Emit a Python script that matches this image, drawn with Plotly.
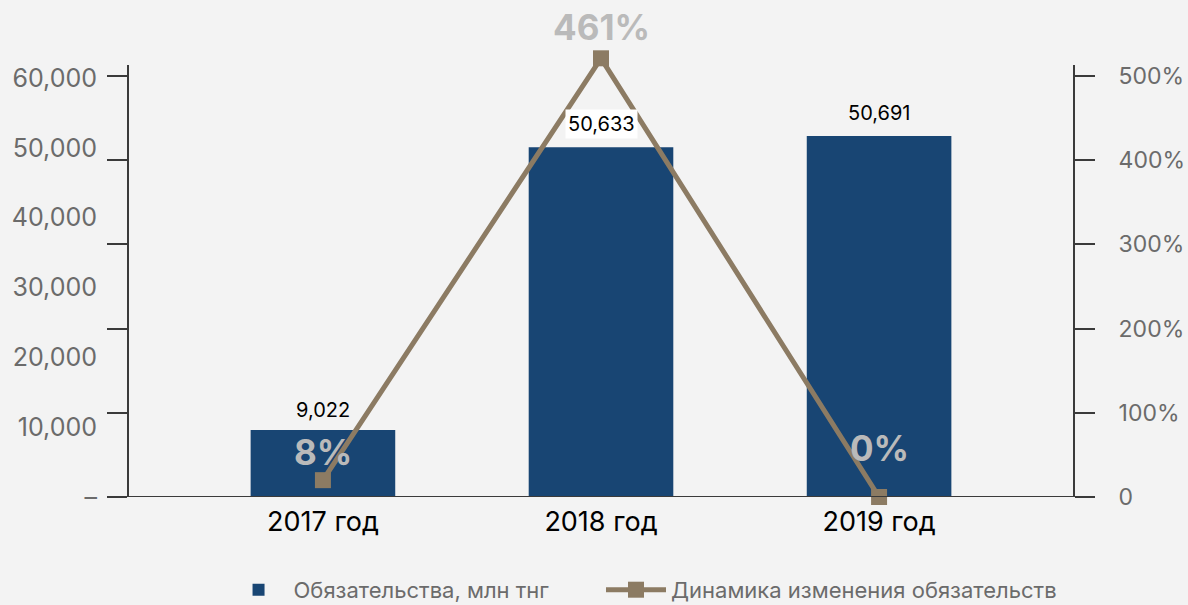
import plotly.graph_objects as go

categories = ["2017 год", "2018 год", "2019 год"]
# bar heights as drawn in the picture, and the printed value labels
liab_values = [9600, 50100, 51700]
liab_labels = ["9,022", "50,633", "50,691"]
# line points as drawn (right axis, %), and the printed percent labels
dyn_values = [20, 521, 0]
dyn_labels = ["8%", "461%", "0%"]

left_tickvals = [0, 10000, 20000, 30000, 40000, 50000, 60000]
left_ticktext = ["–", "10,000", "20,000", "30,000", "40,000", "50,000", "60,000"]
right_tickvals = [0, 100, 200, 300, 400, 500]
right_ticktext = ["0", "100%", "200%", "300%", "400%", "500%"]
axis_top_pct = 513  # where the drawn axis lines stop (right-axis units)

bar_name = "Обязательства, млн тнг"
line_name = "Динамика изменения обязательств"

BAR_COLOR = "#184573"
LINE_COLOR = "#8c7b63"
AXIS_COLOR = "#3a3a3a"
TICK_FONT_COLOR = "#6b6b6b"
FONT = "Inter"

fig = go.Figure()
fig.add_trace(go.Bar(
    x=categories, y=liab_values, name=bar_name,
    marker=dict(color=BAR_COLOR, line=dict(width=0)),
    width=0.52, yaxis="y", legend="legend",
))
fig.add_trace(go.Scatter(
    x=categories, y=dyn_values, name=line_name, yaxis="y2",
    mode="lines+markers",
    line=dict(color=LINE_COLOR, width=5),
    marker=dict(symbol="square", size=16, color=LINE_COLOR),
    cliponaxis=False, legend="legend2",
))

annotations = []
bar_label_shift = [20, 23, 23]
for i, (c, v, t) in enumerate(zip(categories, liab_values, liab_labels)):
    annotations.append(dict(
        x=c, y=v, xref="x", yref="y", text=t, showarrow=False,
        yshift=bar_label_shift[i],
        font=dict(family=FONT, size=20, color="#000000"),
        bgcolor="#ffffff" if i == 1 else "rgba(0,0,0,0)",
        borderpad=2,
    ))
pct_shift = [28, 31, 49]
for i, (c, v, t) in enumerate(zip(categories, dyn_values, dyn_labels)):
    annotations.append(dict(
        x=c, y=v, xref="x", yref="y2", text="<b>" + t + "</b>", showarrow=False,
        yshift=pct_shift[i],
        font=dict(family=FONT, size=35, color="#bababa"),
    ))

line_style = dict(color=AXIS_COLOR, width=2)
shapes = [
    dict(type="line", xref="paper", yref="y2", x0=0, x1=0, y0=0, y1=axis_top_pct,
         line=line_style, layer="above"),
    dict(type="line", xref="paper", yref="y2", x0=1, x1=1, y0=0, y1=axis_top_pct,
         line=line_style, layer="above"),
    dict(type="line", xref="paper", yref="y2", x0=0, x1=1, y0=0, y1=0,
         line=line_style, layer="above"),
]

legend_common = dict(
    orientation="h", xanchor="left", y=-0.252, yanchor="bottom",
    font=dict(family=FONT, size=22, color="#6b6b6b"),
    itemwidth=60, bgcolor="rgba(0,0,0,0)",
)

fig.update_layout(
    width=1188, height=605,
    margin=dict(l=128, r=114, t=45, b=108, autoexpand=False),
    paper_bgcolor="#f3f3f3", plot_bgcolor="#f3f3f3",
    font=dict(family=FONT, color=TICK_FONT_COLOR),
    showlegend=True,
    legend=dict(x=0.101, **legend_common),
    legend2=dict(x=0.5, **legend_common),
    xaxis=dict(
        range=[-0.701, 2.701], showgrid=False, zeroline=False,
        showline=False, ticks="", ticklabelstandoff=6,
        tickfont=dict(family=FONT, size=27, color="#000000"),
    ),
    yaxis=dict(
        range=[0, 64726], showgrid=False, zeroline=False, showline=False,
        tickvals=left_tickvals, ticktext=left_ticktext,
        ticks="", ticklabelstandoff=30,
        tickfont=dict(family=FONT, size=25, color=TICK_FONT_COLOR),
    ),
    yaxis2=dict(
        range=[0, 536.8], overlaying="y", side="right",
        showgrid=False, zeroline=False,
        showline=False, mirror="ticks",
        tickvals=right_tickvals, ticktext=right_ticktext,
        ticks="outside", ticklen=20, tickwidth=2, tickcolor=AXIS_COLOR,
        ticklabelstandoff=19,
        tickfont=dict(family=FONT, size=23, color=TICK_FONT_COLOR),
    ),
    shapes=shapes,
    annotations=annotations,
    bargap=0.48,
)

fig.write_html(
    "out.html",
    config={"displayModeBar": False},
    post_script="document.body.style.margin='0';document.body.style.background='#f3f3f3';",
)
